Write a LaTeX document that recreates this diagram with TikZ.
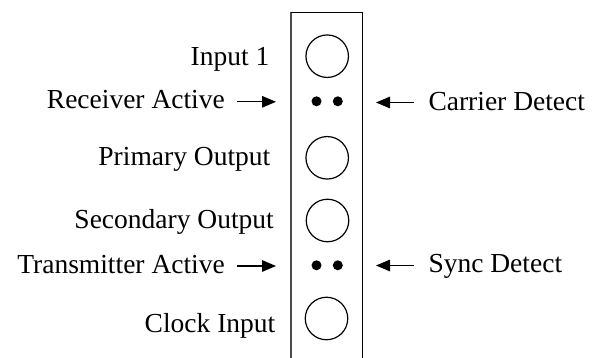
\documentclass[tikz,border=0pt]{standalone}
\usepackage{fontspec}
\setmainfont{Liberation Serif}
\usetikzlibrary{arrows.meta}
\begin{document}
\begin{tikzpicture}[x=1pt,y=-1pt,
  lbl/.style={inner sep=0pt, font=\fontsize{27.5}{33}\selectfont},
  led/.style={circle, draw, line width=1.2pt, minimum size=42.5pt, inner sep=0pt},
  dotled/.style={circle, fill, minimum size=10pt, inner sep=0pt},
  arr/.style={line width=1.4pt, -{Triangle[length=14pt,width=11.5pt]}},
  panelside/.style={line width=1.5pt, draw=black!70},
  panelrest/.style={line width=1.2pt, draw=black}]
\useasboundingbox (0,0) rectangle (602,358);
% panel
\coordinate (pbl) at (291,358);
\coordinate (ptl) at (291,12.3);
\coordinate (ptr) at (362.7,12.3);
\coordinate (pbr) at (362.7,358);
\draw[panelside] (pbl) -- (ptl);
\draw[panelrest] (ptl) -- (ptr) -- (pbr);
% LEDs
\node[led] (c1) at (327.2,56.2) {};
\node[led] (c2) at (327.2,157.8) {};
\node[led] (c3) at (327.5,220.5) {};
\node[led] (c4) at (326.5,318.5) {};
\node[dotled] (d1a) at (316.5,101.3) {};
\node[dotled] (d1b) at (337.8,101.3) {};
\node[dotled] (d2a) at (316.5,265.3) {};
\node[dotled] (d2b) at (337.8,265.3) {};
% left labels
\node[lbl, anchor=base east] (in1) at (269.5,65.7) {Input 1};
\node[lbl, anchor=base east] (ra) at (225,109) {Receiver Active};
\node[lbl, anchor=base east] (po) at (270.5,165.7) {Primary Output};
\node[lbl, anchor=base east] (so) at (274,229) {Secondary Output};
\node[lbl, anchor=base east] (ta) at (225,273.5) {Transmitter Active};
\node[lbl, anchor=base east] (ci) at (275.5,332) {Clock Input};
% right labels
\node[lbl, anchor=base west] (cd) at (428.3,110.5) {Carrier Detect};
\node[lbl, anchor=base west] (sd) at (428.3,272.5) {Sync Detect};
% arrows
\coordinate (raA) at (237,101.8);
\coordinate (raB) at (276,101.8);
\coordinate (taA) at (237,266);
\coordinate (taB) at (276,266);
\coordinate (cdA) at (414,102.5);
\coordinate (cdB) at (376,102.5);
\coordinate (sdA) at (414,265.5);
\coordinate (sdB) at (376,265.5);
\draw[arr] (raA) -- (raB);
\draw[arr] (taA) -- (taB);
\draw[arr] (cdA) -- (cdB);
\draw[arr] (sdA) -- (sdB);
\end{tikzpicture}
\end{document}
